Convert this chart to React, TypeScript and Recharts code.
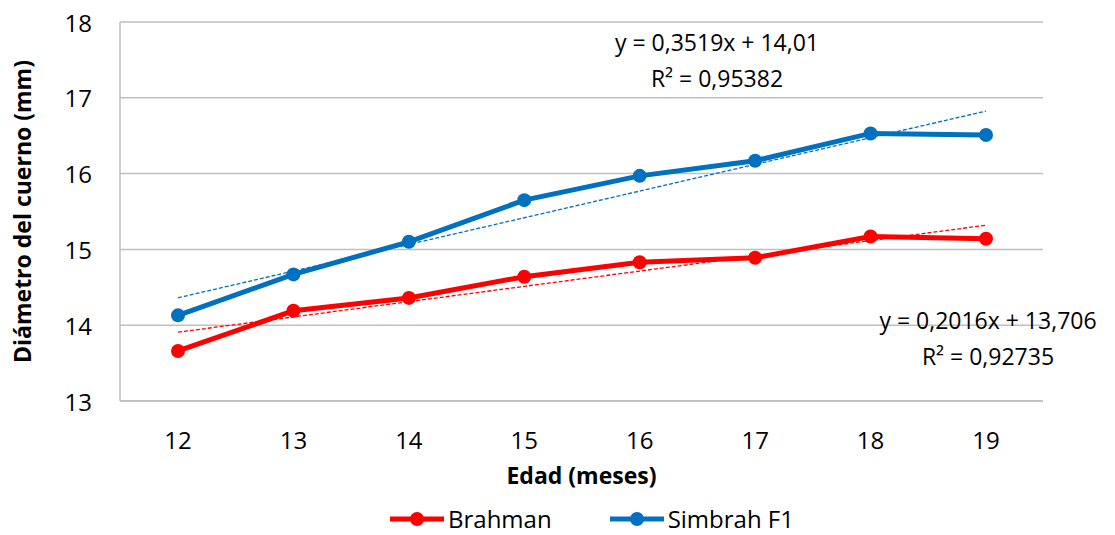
import { LineChart, Line, XAxis, YAxis, CartesianGrid, Legend } from 'recharts'

// Edad (meses) en el eje X
const edades = ['12', '13', '14', '15', '16', '17', '18', '19']

// Diámetro del cuerno (mm) por raza
const brahman = [13.66, 14.19, 14.36, 14.64, 14.83, 14.89, 15.17, 15.14]
const simbrah = [14.13, 14.67, 15.1, 15.65, 15.97, 16.17, 16.53, 16.51]

const yTicks = [13, 14, 15, 16, 17, 18]

// Líneas de tendencia (ecuaciones mostradas en el gráfico)
const brahmanTrend = { slope: 0.2016, intercept: 13.706 }
const simbrahTrend = { slope: 0.3519, intercept: 14.01 }
const brahmanEq = ['y = 0,2016x + 13,706', 'R² = 0,92735']
const simbrahEq = ['y = 0,3519x + 14,01', 'R² = 0,95382']

const RED = '#FF0000'
const BLUE = '#0070C0'
const FONT = '"Open Sans", Lato, sans-serif'

const data = edades.map((edad, i) => ({
  edad,
  brahman: brahman[i],
  simbrah: simbrah[i],
  brahmanTrend: brahmanTrend.slope * (i + 1) + brahmanTrend.intercept,
  simbrahTrend: simbrahTrend.slope * (i + 1) + simbrahTrend.intercept,
}))

const XTick = ({ x, y, payload }: any) => (
  <text x={x} y={y + 30} textAnchor="middle" dominantBaseline="central" fill="#000" fontSize={24} fontFamily={FONT}>
    {payload.value}
  </text>
)

const YTick = ({ x, y, payload }: any) => (
  <text x={x} y={y} textAnchor="end" dominantBaseline="central" fill="#000" fontSize={24} fontFamily={FONT}>
    {payload.value}
  </text>
)

const XTitle = ({ viewBox }: any) => (
  <text
    x={viewBox.x + viewBox.width / 2}
    y={viewBox.y + 74}
    textAnchor="middle"
    dominantBaseline="central"
    fontWeight="bold"
    fontSize={23}
    fontFamily={FONT}
    fill="#000"
  >
    Edad (meses)
  </text>
)

const YTitle = ({ viewBox }: any) => {
  const cy = viewBox.y + viewBox.height / 2
  return (
    <text
      x={22}
      y={cy}
      transform={`rotate(-90, 22, ${cy})`}
      textAnchor="middle"
      dominantBaseline="central"
      fontWeight="bold"
      fontSize={23}
      fontFamily={FONT}
      fill="#000"
    >
      Diámetro del cuerno (mm)
    </text>
  )
}

const legendItems = [
  { name: 'Brahman', color: RED, gap: 0 },
  { name: 'Simbrah F1', color: BLUE, gap: 58 },
]

const CustomLegend = () => (
  <div style={{ height: 40, paddingTop: 8, boxSizing: 'border-box', paddingLeft: 390, display: 'flex', alignItems: 'flex-start' }}>
    {legendItems.map((it) => (
      <div key={it.name} style={{ display: 'flex', alignItems: 'center', marginLeft: it.gap, height: 32 }}>
        <svg width={54} height={16}>
          <line x1={0} y1={8} x2={54} y2={8} stroke={it.color} strokeWidth={5} />
          <circle cx={27} cy={8} r={7} fill={it.color} />
        </svg>
        <span style={{ marginLeft: 4, fontSize: 24, fontFamily: FONT, color: '#000', lineHeight: '32px' }}>{it.name}</span>
      </div>
    ))}
  </div>
)

const eqStyle = {
  position: 'absolute' as const,
  fontSize: 23,
  fontFamily: FONT,
  color: '#000',
  textAlign: 'center' as const,
  lineHeight: '36px',
  whiteSpace: 'nowrap' as const,
  transform: 'translateX(-50%)',
}

export default function App() {
  return (
    <div style={{ position: 'absolute', left: 0, top: 0, width: 1115, height: 535, background: '#fff' }}>
      <LineChart width={1115} height={535} data={data} margin={{ top: 22, right: 72, left: 0, bottom: 0 }}>
        <CartesianGrid stroke="#BFBFBF" strokeWidth={1.5} vertical={false} />
        <XAxis
          dataKey="edad"
          height={94}
          padding={{ left: 58, right: 57 }}
          axisLine={{ stroke: '#BFBFBF', strokeWidth: 1.5 }}
          tickLine={false}
          tick={<XTick />}
          label={<XTitle />}
        />
        <YAxis
          width={120}
          domain={[13, 18]}
          ticks={yTicks}
          interval={0}
          axisLine={{ stroke: '#BFBFBF', strokeWidth: 1.5 }}
          tickLine={false}
          tickMargin={22}
          tick={<YTick />}
          label={<YTitle />}
        />
        <Legend verticalAlign="bottom" content={<CustomLegend />} />
        <Line
          dataKey="brahman"
          name="Brahman"
          stroke={RED}
          strokeWidth={5}
          dot={{ r: 7, fill: RED, stroke: RED, strokeWidth: 0 }}
          isAnimationActive={false}
        />
        <Line
          dataKey="simbrah"
          name="Simbrah F1"
          stroke={BLUE}
          strokeWidth={5}
          dot={{ r: 7, fill: BLUE, stroke: BLUE, strokeWidth: 0 }}
          isAnimationActive={false}
        />
        <Line
          dataKey="brahmanTrend"
          stroke={RED}
          strokeWidth={1.3}
          strokeDasharray="4 2"
          dot={false}
          legendType="none"
          isAnimationActive={false}
        />
        <Line
          dataKey="simbrahTrend"
          stroke={BLUE}
          strokeWidth={1.3}
          strokeDasharray="4 2"
          dot={false}
          legendType="none"
          isAnimationActive={false}
        />
      </LineChart>
      <div style={{ ...eqStyle, left: 717, top: 24 }}>
        {simbrahEq[0]}
        <br />
        {simbrahEq[1]}
      </div>
      <div style={{ ...eqStyle, left: 988, top: 302 }}>
        {brahmanEq[0]}
        <br />
        {brahmanEq[1]}
      </div>
    </div>
  )
}
